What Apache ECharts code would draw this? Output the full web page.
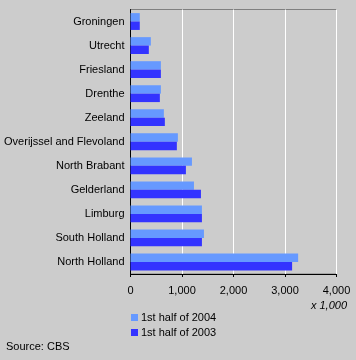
<!DOCTYPE html>
<html><head><meta charset="utf-8">
<script src="https://cdn.jsdelivr.net/npm/echarts@6/dist/echarts.min.js"></script>
<style>html,body{margin:0;padding:0;background:#CCCCCC;}#c{width:356px;height:360px;}</style>
</head><body><div id="c"></div>
<script>
var categories = ["Groningen","Utrecht","Friesland","Drenthe","Zeeland","Overijssel and Flevoland","North Brabant","Gelderland","Limburg","South Holland","North Holland"];
var seriesNames = ["1st half of 2004","1st half of 2003"];
var values2004 = [180,395,590,590,648,920,1193,1232,1387,1426,3255];
var values2003 = [180,356,590,570,667,900,1076,1368,1387,1387,3138];
var xTicks = [0,1000,2000,3000,4000];

var font = 'Liberation Sans, Arial, sans-serif';
var chart = echarts.init(document.getElementById('c'), null, {renderer:'canvas'});
chart.setOption({
  backgroundColor:'#CCCCCC',
  animation:false,
  textStyle:{fontFamily:font},
  grid:{left:130.5,right:19.5,top:9.5,bottom:86,show:true,borderColor:'#808080',borderWidth:1,backgroundColor:'#CCCCCC'},
  legend:{
    orient:'vertical',left:126,top:307,itemWidth:7,itemHeight:7,itemGap:4,icon:'rect',
    textStyle:{fontFamily:font,fontSize:11,color:'#000',padding:[0,0,0,-2]},
    data:seriesNames
  },
  xAxis:{
    type:'value',min:xTicks[0],max:xTicks[xTicks.length-1],interval:1000,
    axisLine:{show:true,lineStyle:{color:'#000'}},
    axisTick:{show:true,length:3,lineStyle:{color:'#000'}},
    axisLabel:{color:'#000',fontSize:11,fontFamily:font,margin:11,
      formatter:function(v){return v.toLocaleString('en-US');}},
    splitLine:{show:true,lineStyle:{color:'#FFFFFF',width:1}}
  },
  yAxis:{
    type:'category',data:categories,inverse:true,
    axisLine:{show:true,lineStyle:{color:'#000'}},
    axisTick:{show:false},
    axisLabel:{color:'#000',fontSize:11,fontFamily:font,margin:6}
  },
  series:[
    {name:seriesNames[0],type:'bar',data:values2004,itemStyle:{color:'#6699FF'},barGap:'0%',barCategoryGap:'30%'},
    {name:seriesNames[1],type:'bar',data:values2003,itemStyle:{color:'#3333FF'},barGap:'0%',barCategoryGap:'30%'}
  ],
  graphic:[
    {type:'text',right:9,top:300,style:{text:'x 1,000',font:'italic 11px '+font,fill:'#000'}},
    {type:'text',left:6,top:341,style:{text:'Source: CBS',font:'11px '+font,fill:'#000'}}
  ]
});
</script></body></html>
